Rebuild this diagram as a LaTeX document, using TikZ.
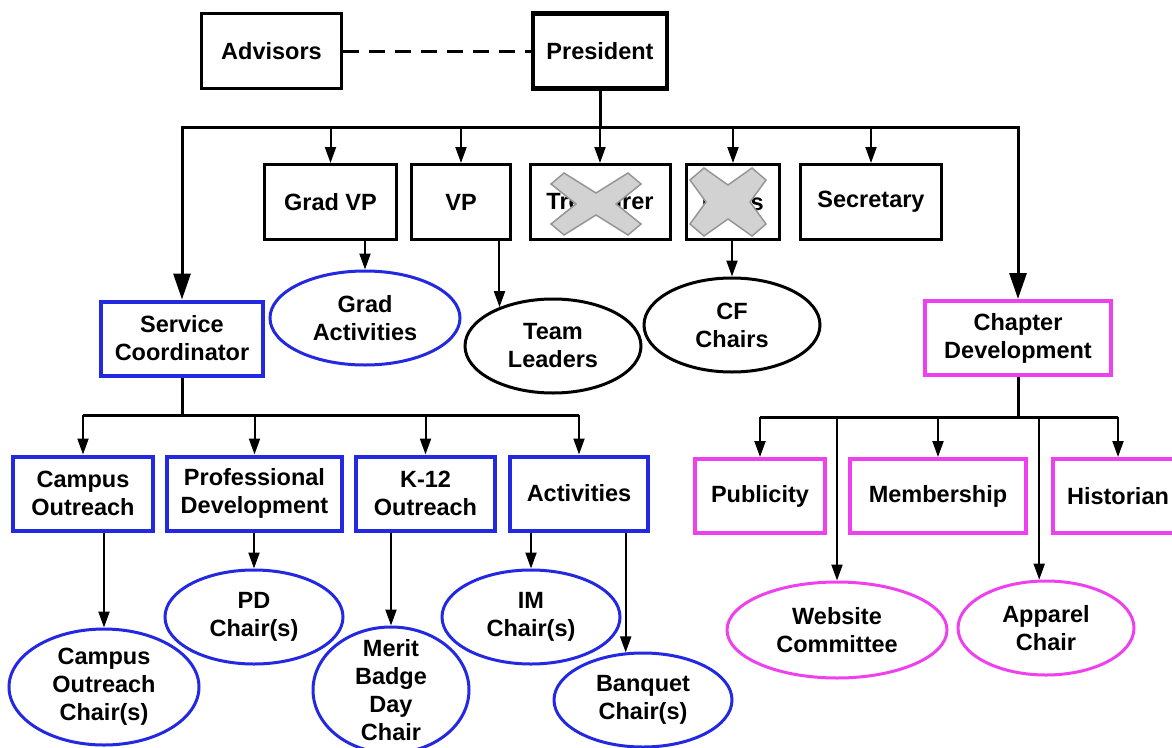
\documentclass[tikz,border=0pt]{standalone}
\usepackage{fontspec}
\setmainfont{Liberation Sans}
\usetikzlibrary{arrows.meta,shapes.geometric,calc}
\definecolor{bl}{RGB}{35,40,225}
\definecolor{mg}{RGB}{238,64,238}
\definecolor{xfill}{RGB}{210,210,210}
\definecolor{xline}{RGB}{150,150,150}
\begin{document}
\begin{tikzpicture}[x=1pt,y=-1pt,
  every node/.style={font=\fontsize{23.5}{28}\selectfont\bfseries, align=center, inner sep=0pt},
  bx/.style={draw, line width=3pt, rectangle, minimum height=75pt},
  bbx/.style={draw=bl, line width=4pt, rectangle, minimum height=74pt},
  mbx/.style={draw=mg, line width=4pt, rectangle, minimum height=74pt},
  el/.style={draw, line width=3pt, ellipse, inner sep=0pt},
  bel/.style={el, draw=bl},
  mel/.style={el, draw=mg},
  busline/.style={line width=3pt},
  bigarr/.style={line width=3pt, -{Triangle[width=17pt,length=26pt]}},
  arr/.style={line width=2pt, -{Triangle[width=11pt,length=16pt]}},
  xmark/.style={fill=xfill, draw=xline, line width=1.5pt, line join=miter}
]
\useasboundingbox (0,0) rectangle (1172,747);

% top
\node[bx, minimum width=140pt] (Adv) at (271.5,51) {Advisors};
\node[bx, line width=4.5pt, minimum width=134pt] (Pres) at (600,51) {President};
\draw[line width=3pt, dash pattern=on 16pt off 10pt] (Adv.east) -- (Pres.west);

% second row
\node[bx, minimum width=132pt] (GVP) at (330.5,202) {Grad VP};
\node[bx, minimum width=99pt] (VP) at (461,202) {VP};
\node[bx, minimum width=140pt] (Tre) at (600,202) {Treasurer};
\node[bx, minimum width=93pt] (CFV) at (733,202) {CFDs};
\node[bx, minimum width=141pt] (Sec) at (871,202) {Secretary};

\node[bel, minimum width=190pt, minimum height=94pt, label={center:Grad\\Activities}] (GA) at (365,318) {};
\node[el, minimum width=176pt, minimum height=94pt, label={center:Team\\Leaders}] (TL) at (553,346) {};
\node[el, minimum width=176pt, minimum height=94pt, label={center:CF\\Chairs}] (CFC) at (732,325) {};

\node[bbx, minimum width=162pt] (SC) at (182,338.5) {Service\\Coordinator};
\node[mbx, minimum width=186pt] (CD) at (1018,338) {Chapter\\Development};

% third row
\node[bbx, minimum width=140pt] (CO) at (83,493.5) {Campus\\Outreach};
\node[bbx, minimum width=175pt] (PD) at (254.5,493.5) {Professional\\Development};
\node[bbx, minimum width=139pt] (K12) at (425.5,493.5) {K-12\\Outreach};
\node[bbx, minimum width=138pt] (Act) at (579,493.5) {Activities};

\node[mbx, minimum width=130pt] (Pub) at (760,496) {Publicity};
\node[mbx, minimum width=176pt] (Mem) at (938,496) {Membership};
\node[mbx, minimum width=130pt] (Hist) at (1118,496) {Historian};

% bottom ellipses
\node[bel, minimum width=190pt, minimum height=116pt, label={center:Campus\\Outreach\\Chair(s)}] (COC) at (104,687) {};
\node[bel, minimum width=178pt, minimum height=94pt, label={center:PD\\Chair(s)}] (PDC) at (254,617) {};
\node[bel, minimum width=156pt, minimum height=126pt, label={center:Merit\\Badge\\Day\\Chair}] (MB) at (391,690) {};
\node[bel, minimum width=178pt, minimum height=94pt, label={center:IM\\Chair(s)}] (IM) at (531,617) {};
\node[bel, minimum width=178pt, minimum height=94pt, label={center:Banquet\\Chair(s)}] (Ban) at (643,700) {};
\node[mel, minimum width=220pt, minimum height=96pt, label={center:Website\\Committee}] (Web) at (837,630) {};
\node[mel, minimum width=176pt, minimum height=94pt, label={center:Apparel\\Chair}] (App) at (1046,628) {};

% connectors: top bus
\coordinate (bus) at (600,127);
\draw[busline] (Pres.south) -- (bus);
\draw[bigarr] (bus) -| (SC.north);
\draw[bigarr] (bus) -| (CD.north);
\foreach \n in {GVP,VP,Tre,CFV,Sec}{
  \draw[arr] (\n.north |- bus) -- (\n.north);
}
\draw[arr] (GA.north |- GVP.south) -- (GA.north);
\draw[arr] (TL.144 |- VP.south) -- (TL.144);
\draw[arr] (CFC.north |- CFV.south) -- (CFC.north);

% lower left bus
\coordinate (lb) at (182,415);
\draw[busline] (SC.south) -- (lb);
\draw[busline] (CO.north |- lb) -- (Act.north |- lb);
\foreach \n in {CO,PD,K12,Act}{
  \draw[arr] (\n.north |- lb) -- (\n.north);
}
\draw[arr] (COC.north |- CO.south) -- (COC.north);
\draw[arr] (PDC.north |- PD.south) -- (PDC.north);
\draw[arr] (MB.north |- K12.south) -- (MB.north);
\draw[arr] (IM.north |- Act.south) -- (IM.north);
\draw[arr] (Ban.110 |- Act.south) -- (Ban.110);

% lower right bus
\coordinate (rb) at (1018,417);
\draw[busline] (CD.south) -- (rb);
\draw[busline] (Pub.north |- rb) -- (Hist.north |- rb);
\foreach \n in {Pub,Mem,Hist}{
  \draw[arr] (\n.north |- rb) -- (\n.north);
}
\draw[arr] (Web.north |- rb) -- (Web.north);
\draw[arr] (App.98 |- rb) -- (App.98);

% crosses
\begin{scope}[shift={(596,204)}]
\draw[xmark] (-45,-20) -- (-32,-31) -- (0,-11) -- (32,-31) -- (45,-20) -- (20,0) -- (45,20) -- (32,31) -- (0,11) -- (-32,31) -- (-45,20) -- (-20,0) -- cycle;
\end{scope}
\begin{scope}[shift={(728,202)}]
\draw[xmark] (-38,-22) -- (-24,-34) -- (0,-17) -- (24,-34) -- (38,-22) -- (22,0) -- (38,22) -- (24,34) -- (0,17) -- (-24,34) -- (-38,22) -- (-22,0) -- cycle;
\end{scope}
\end{tikzpicture}
\end{document}
